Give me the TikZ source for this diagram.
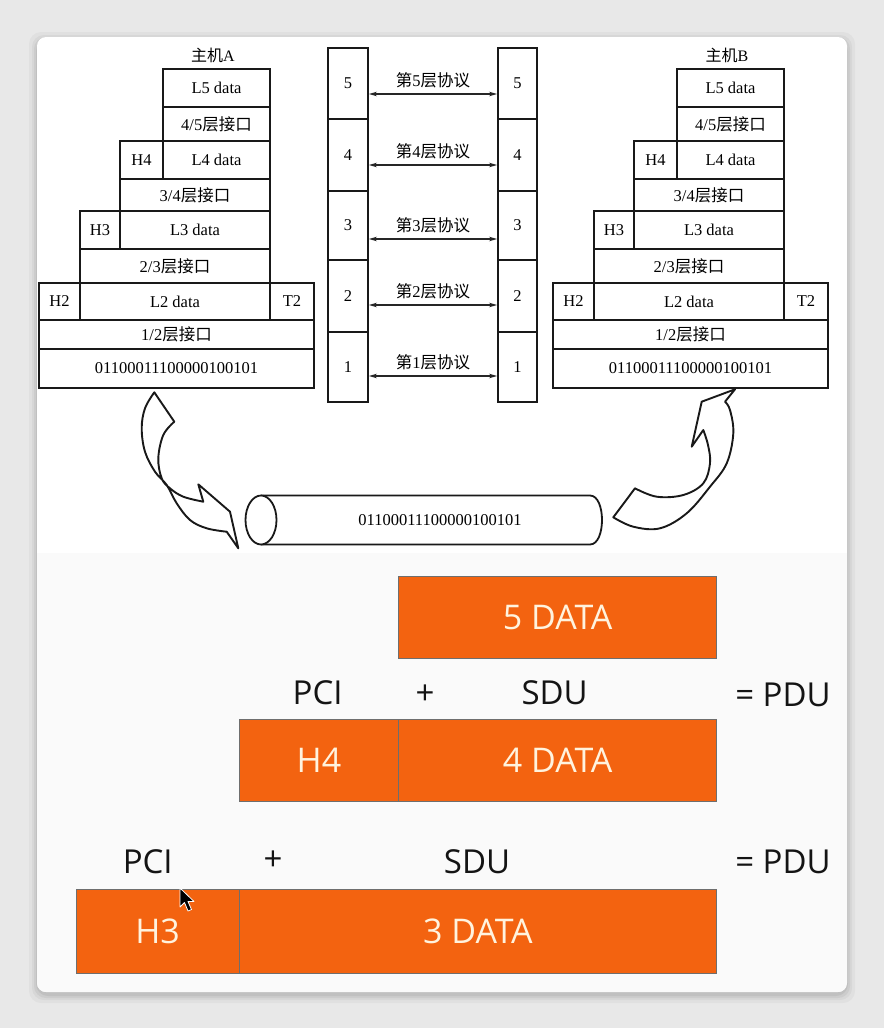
\documentclass[tikz,border=0pt]{standalone}
\usepackage{fontspec}
\setmainfont{Liberation Serif}
\newfontfamily\cjk{Noto Sans CJK SC}
\newfontfamily\osans{Open Sans}
\usetikzlibrary{arrows.meta}
\definecolor{org}{RGB}{243,99,16}
\definecolor{orgline}{RGB}{110,110,110}
\definecolor{cream}{RGB}{255,243,222}
\definecolor{bgc}{RGB}{232,232,232}
\definecolor{lowbg}{RGB}{250,250,250}
\newcommand{\cellat}[6]{\node[cellbox,minimum width={#4-#2},minimum height={#5-#3}] (#1) at ({(#2+#4)/2},{(#3+#5)/2}) {#6};}
\newcommand{\hoststack}[3]{%
\begin{scope}[xshift=#2pt]
\cellat{#1L5}{163}{69}{270}{107}{L5 data}
\cellat{#1I45}{163}{107}{270}{141}{4/5{\cjk 层接口}}
\cellat{#1H4}{120}{141}{163}{179}{H4}
\cellat{#1L4}{163}{141}{270}{179}{L4 data}
\cellat{#1I34}{120}{179}{270}{211}{3/4{\cjk 层接口}}
\cellat{#1H3}{80}{211}{120}{249}{H3}
\cellat{#1L3}{120}{211}{270}{249}{L3 data}
\cellat{#1I23}{80}{249}{270}{283}{2/3{\cjk 层接口}}
\cellat{#1H2}{39}{283}{80}{320}{H2}
\cellat{#1L2}{80}{283}{270}{320}{L2 data}
\cellat{#1T2}{270}{283}{314}{320}{T2}
\cellat{#1I12}{39}{320}{314}{349}{1/2{\cjk 层接口}}
\cellat{#1bits}{39}{349}{314}{388}{01100011100000100101}
\node[hostlabel] (#1name) at (213,55) {{\cjk 主机}#3};
\end{scope}}
\begin{document}
\begin{tikzpicture}[x=1pt,y=-1pt,
  cellbox/.style={draw=black!90, line width=1.8pt, inner sep=0pt, font=\fontsize{16.5}{18}\selectfont},
  hostlabel/.style={inner sep=0pt, font=\fontsize{16}{18}\selectfont},
  protarrow/.style={line width=1.2pt, draw=black!85, {Stealth[length=8pt,width=4.5pt]}-{Stealth[length=8pt,width=4.5pt]}},
  protlabel/.style={inner sep=0pt, font=\fontsize{16.5}{18}\selectfont},
  blockarrow/.style={line width=1.9pt, draw=black!90, line join=round},
  obox/.style={draw=orgline, line width=0.9pt, fill=org, text=cream, inner sep=0pt, font=\osans\fontsize{34}{40}\selectfont},
  plabel/.style={inner sep=0pt, text=black!92, font=\osans\fontsize{33}{36}\selectfont}
]
\useasboundingbox (0,0) rectangle (884,1028);
% background and card
\fill[bgc] (0,0) rectangle (884,1028);
\foreach \i/\o in {8/0.03,5/0.04,3/0.05,1/0.06}{
  \fill[black, opacity=\o, rounded corners=12pt] (37-\i,37-\i+3) rectangle (847+\i,992+\i+3);
}
\fill[white, rounded corners=9pt] (37,37) rectangle (847,992);
\begin{scope}
  \clip[rounded corners=9pt] (37,37) rectangle (847,992);
  \fill[lowbg] (37,553) rectangle (847,992);
\end{scope}

% host stacks
\hoststack{A}{0}{A}
\hoststack{B}{514}{B}

% middle columns
\cellat{P5}{328}{48}{368}{119}{5}
\cellat{P4}{328}{119}{368}{191}{4}
\cellat{P3}{328}{191}{368}{260}{3}
\cellat{P2}{328}{260}{368}{332}{2}
\cellat{P1}{328}{332}{368}{402}{1}
\cellat{Q5}{498}{48}{537}{119}{5}
\cellat{Q4}{498}{119}{537}{191}{4}
\cellat{Q3}{498}{191}{537}{260}{3}
\cellat{Q2}{498}{260}{537}{332}{2}
\cellat{Q1}{498}{332}{537}{402}{1}

\draw[protarrow] ([yshift=-10.5pt]P5.east) -- node[protlabel, above=5pt] (lab5) {{\cjk 第}5{\cjk 层协议}} ([yshift=-10.5pt]Q5.west);
\draw[protarrow] ([yshift=-10pt]P4.east) -- node[protlabel, above=5pt] (lab4) {{\cjk 第}4{\cjk 层协议}} ([yshift=-10pt]Q4.west);
\draw[protarrow] ([yshift=-13.5pt]P3.east) -- node[protlabel, above=5pt] (lab3) {{\cjk 第}3{\cjk 层协议}} ([yshift=-13.5pt]Q3.west);
\draw[protarrow] ([yshift=-9pt]P2.east) -- node[protlabel, above=5pt] (lab2) {{\cjk 第}2{\cjk 层协议}} ([yshift=-9pt]Q2.west);
\draw[protarrow] ([yshift=-9pt]P1.east) -- node[protlabel, above=5pt] (lab1) {{\cjk 第}1{\cjk 层协议}} ([yshift=-9pt]Q1.west);

% cylinder (physical medium)
\draw[line width=1.8pt, draw=black!90, fill=white] (261,495.5) -- (590,495.5) .. controls (606,495.5) and (606,544.5) .. (590,544.5) -- (261,544.5);
\draw[line width=1.8pt, draw=black!90, fill=white] (261,520) ellipse [x radius=15.5pt, y radius=24.5pt];
\node[cellbox, draw=none] (wire) at (440,520) {01100011100000100101};

% left curved block arrow (host A down to the medium)
\draw[blockarrow] plot[smooth, tension=0.6] coordinates {(154.3,392.3) (145,408.3) (141.7,428.3) (145,451.7) (155,471.7) (166.7,485) (176.7,503.3) (190,520) (206.7,528.3) (226.7,531.7)}
  -- (238.3,548.3) -- (230,511.7) -- (198.3,484.3) -- (203.3,501.7)
  -- plot[smooth, tension=0.6] coordinates {(203.3,501.7) (183.3,496.7) (170,488.3) (161.7,478.3) (158.3,458.3) (163.3,435) (174.3,421.7)}
  -- cycle;

% right curved block arrow (medium up to host B)
\draw[blockarrow] plot[smooth, tension=0.6] coordinates {(613.3,517.3) (633.3,526.7) (660,528.3) (686.7,513.3) (710,486.7) (726.7,463.3) (733.3,433.3) (730,410) (725,401.7)}
  -- (735,389.3) -- (701.7,401.7) -- (691.7,446.7) -- (703.3,430)
  -- plot[smooth, tension=0.6] coordinates {(703.3,430) (708,445) (710,463.3) (703.3,483.3) (683.3,495) (656.7,496.7) (635,488.3)}
  -- cycle;

% lower part: PDU construction
\node[obox, minimum width=318, minimum height=82] (d5) at (557.7,617.2) {5 DATA};
\node[obox, minimum width=159.5, minimum height=82.4] (h4) at (318.95,760.5) {H4};
\node[obox, minimum width=318, minimum height=82.4] (d4) at (557.7,760.5) {4 DATA};
\node[obox, minimum width=163.2, minimum height=84] (h3) at (157.6,931.2) {H3};
\node[obox, minimum width=477.5, minimum height=84] (d3) at (477.95,931.2) {3 DATA};

\node[plabel] (pci1) at (317.6,693) {PCI};
\node[plabel] (plus1) at (425,695) {+};
\node[plabel] (sdu1) at (554.6,693) {SDU};
\node[plabel] (pdu1) at (783,695) {= PDU};
\node[plabel] (pci2) at (147.7,862) {PCI};
\node[plabel] (plus2) at (273,861) {+};
\node[plabel] (sdu2) at (477,862) {SDU};
\node[plabel] (pdu2) at (783,862) {= PDU};

% mouse pointer seen in the screenshot
\filldraw[fill=black, draw=white, line width=0.8pt, line join=round]
  (180,888) -- (180,907) -- (184.5,902.5) -- (188,911) -- (191.5,909.5) -- (188,901.5) -- (194,901.5) -- cycle;
\end{tikzpicture}
\end{document}
